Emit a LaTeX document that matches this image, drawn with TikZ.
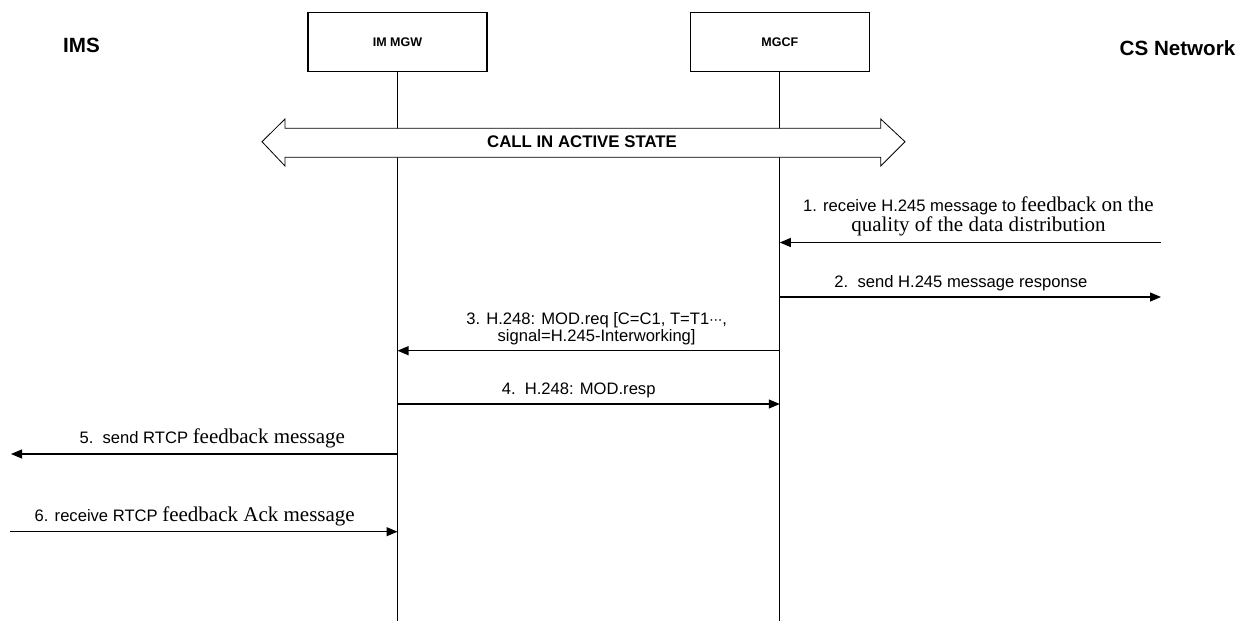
\documentclass[tikz,border=0pt]{standalone}
\usepackage{fontspec}
\setmainfont{Liberation Sans}
\newfontfamily\timesfont{Liberation Serif}
\newfontfamily\dotsfont{DejaVu Sans}
\usetikzlibrary{arrows.meta,positioning}
\tikzstyle{entity}=[rectangle,draw,line width=1.3pt,minimum width=179pt,minimum height=59pt,font=\fontsize{12.5}{14}\selectfont\bfseries]
\tikzstyle{side}=[font=\fontsize{20.6}{24}\selectfont\bfseries]
\tikzstyle{life}=[line width=1.3pt]
\tikzstyle{msg}=[-{Triangle[length=11pt,width=9pt]},line width=1.2pt]
\tikzstyle{lbl}=[font=\fontsize{16.6}{20}\selectfont,align=center,inner sep=0pt,above=5.5pt]
\newcommand{\tms}[1]{{\timesfont\fontsize{21}{20}\selectfont #1}}

\begin{document}
\begin{tikzpicture}[x=1pt,y=-1pt]
\path[use as bounding box] (0,0) rectangle (1239,621);
\coordinate (bottom) at (0,621);
% entities
\node[side] (ims) at (81.5,45) {IMS};
\node[entity] (mgw) at (397.5,42) {IM MGW};
\node[entity, right=202pt of mgw] (mgcf) {MGCF};
\node[side] (cs) at (1177.5,48) {CS Network};
\draw[life] (mgw) -- (mgw |- bottom);
\draw[life] (mgcf) -- (mgcf |- bottom);
% call state
\draw[line width=0.8pt,fill=white] (262,141.7) -- (285,119) -- (285,128.3) -- (880.7,128.3) -- (880.7,119)
  -- (905,141.7) -- (880.7,166) -- (880.7,157.3) -- (285,157.3) -- (285,166) -- cycle;
\node[font=\fontsize{16.8}{20}\selectfont\bfseries] (active) at (582,142) {CALL IN ACTIVE STATE};
% messages
\coordinate (cs1) at (1161,242.5);
\coordinate (cs2) at (1161,297);
\coordinate (h3) at (0,350.7);
\coordinate (h4) at (0,404);
\coordinate (ims5) at (11,454);
\coordinate (ims6) at (10,531.7);
\draw[msg] (cs1) -- node[lbl, xshift=8pt] {1. receive H.245 message to \tms{feedback on the}\\\tms{quality of the data distribution}} (mgcf |- cs1);
\draw[msg] (mgcf |- cs2) -- node[lbl, xshift=-9.5pt] {2.~~send H.245 message response} (cs2);
\draw[msg] (mgcf |- h3) -- node[lbl, xshift=8pt, font=\fontsize{16.6}{13.5}\selectfont] {3. H.248: MOD.req [C=C1, T=T1{\dotsfont\fontsize{13}{13}\selectfont ⋯},\\signal=H.245-Interworking]} (mgw |- h3);
\draw[msg] (mgw |- h4) -- node[lbl, xshift=-10pt] {4.~~H.248: MOD.resp} (mgcf |- h4);
\draw[msg] (mgw |- ims5) -- node[lbl, xshift=8pt] {5.~~send RTCP \tms{feedback message}} (ims5);
\draw[msg] (ims6) -- node[lbl, xshift=-9pt] {6. receive RTCP \tms{feedback Ack message}} (mgw |- ims6);
\end{tikzpicture}
\end{document}
